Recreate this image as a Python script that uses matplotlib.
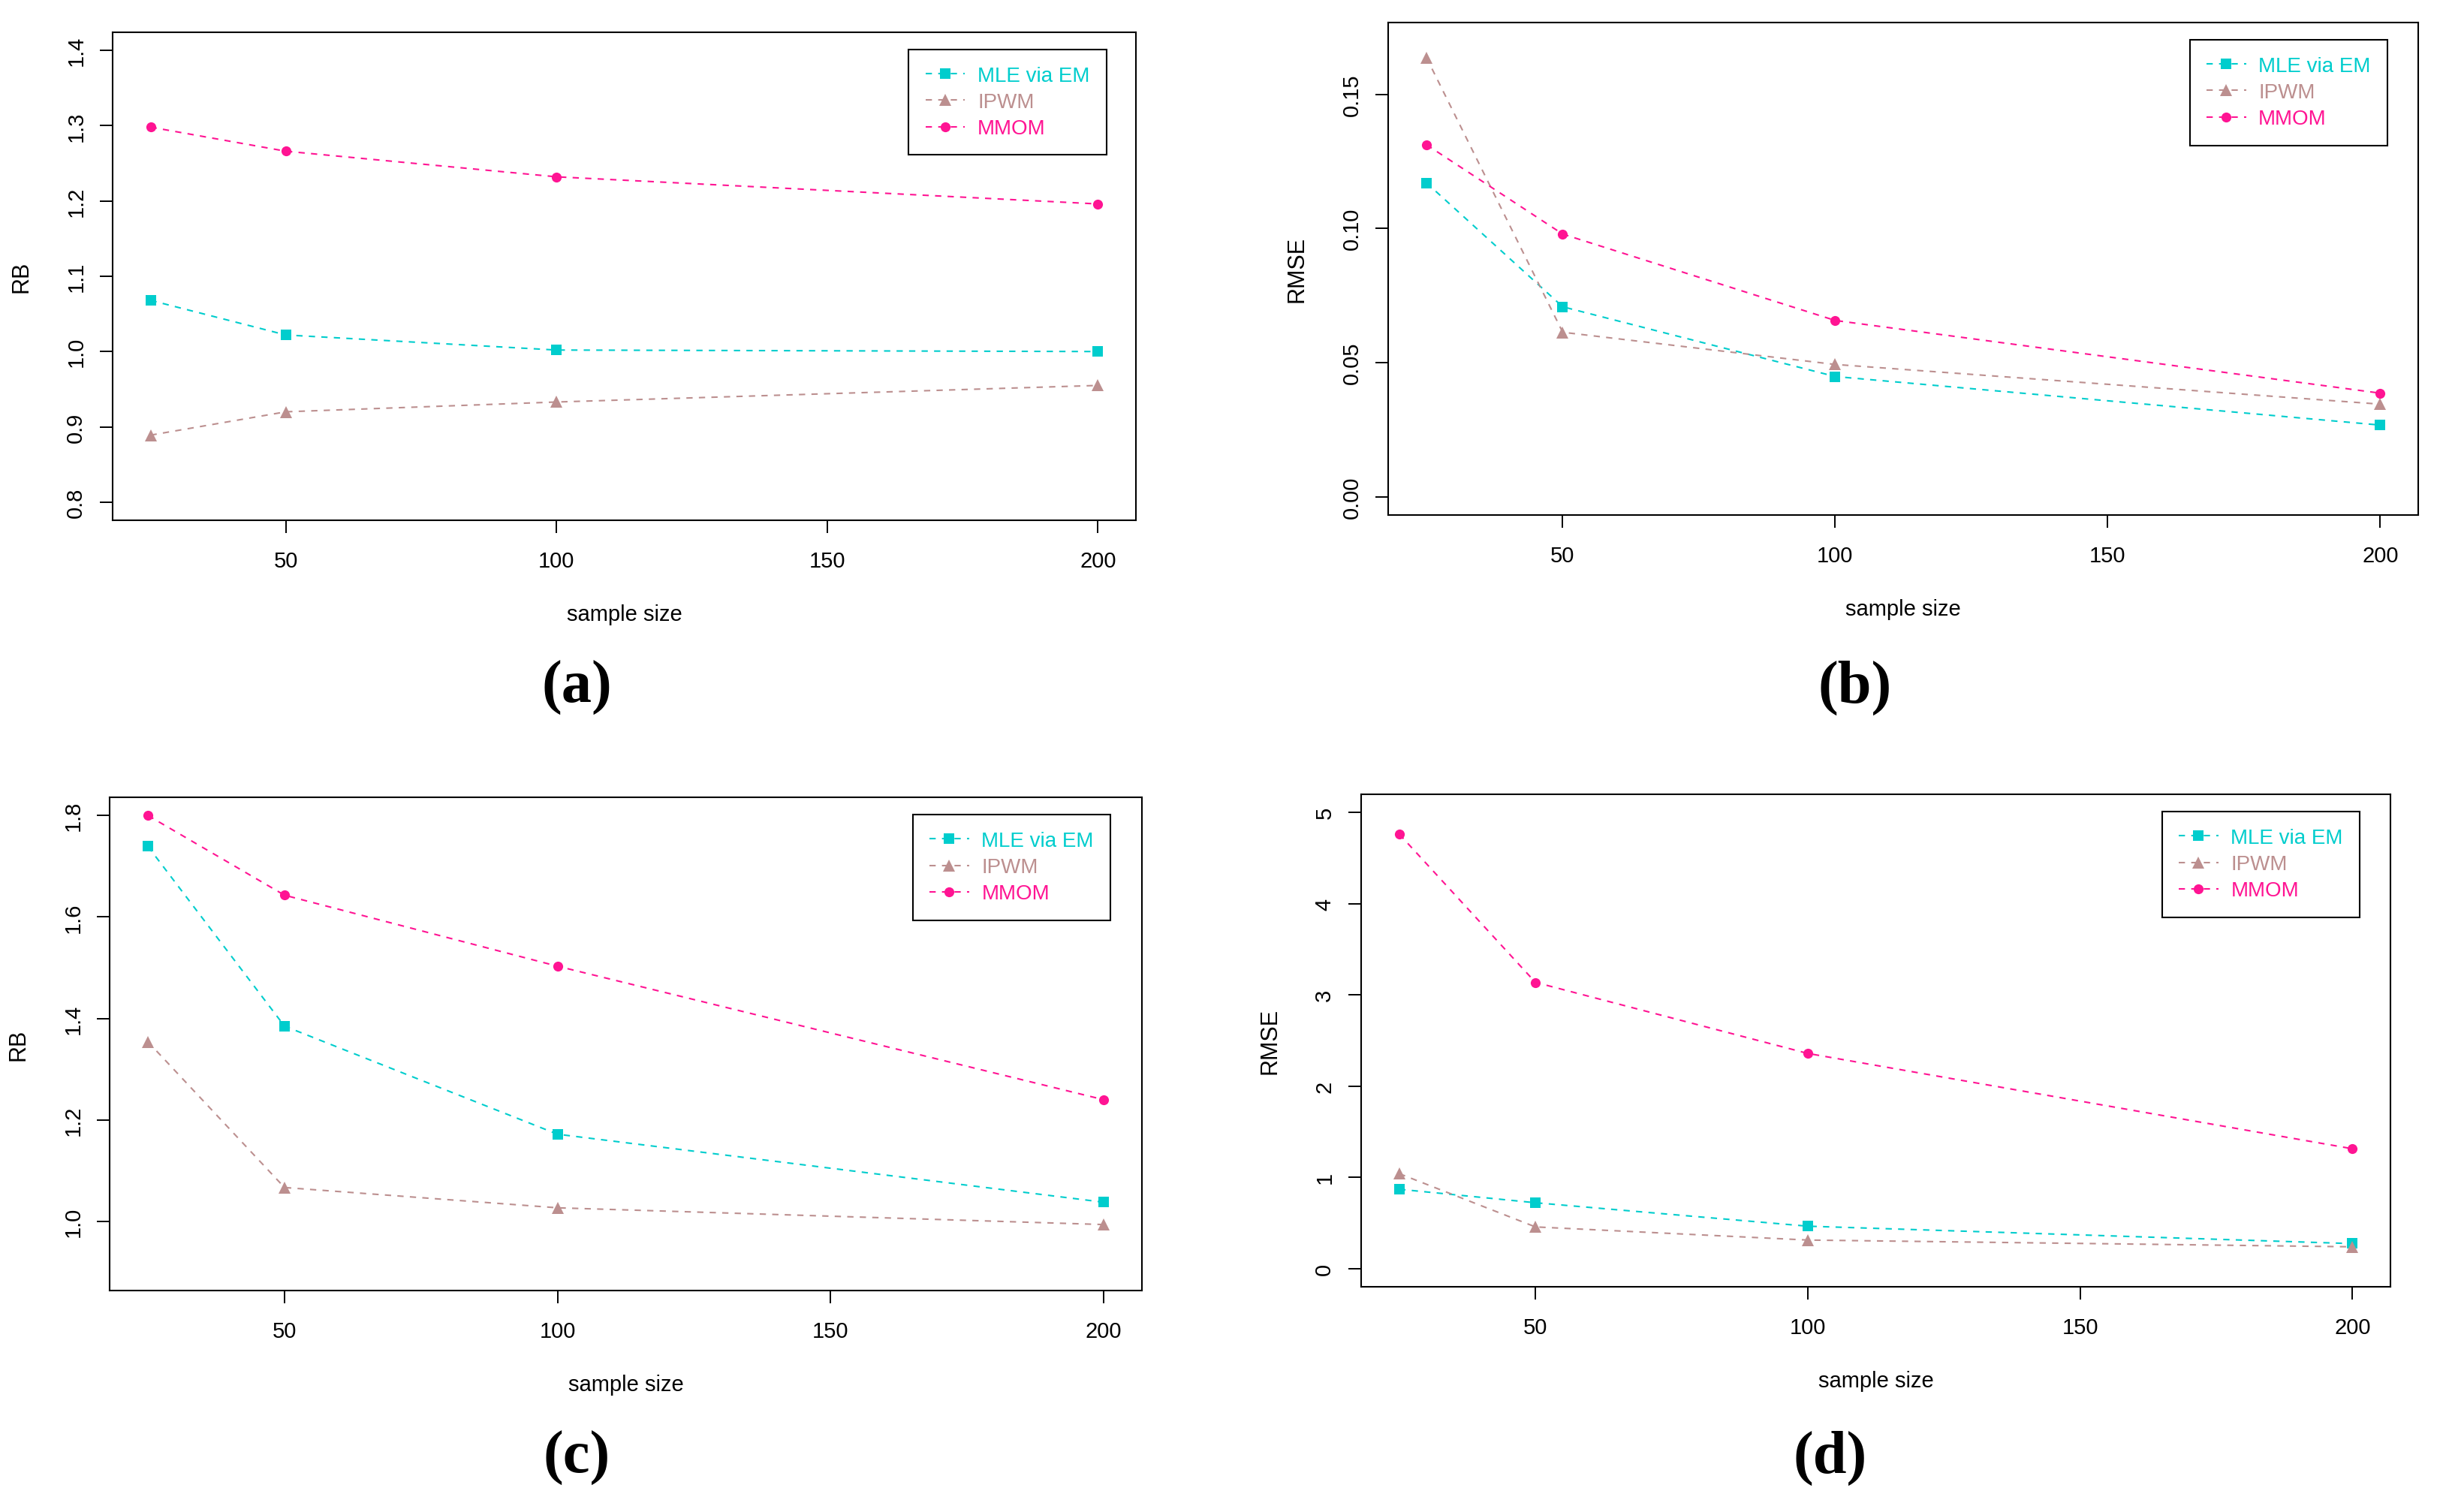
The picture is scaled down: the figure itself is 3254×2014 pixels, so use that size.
import matplotlib
matplotlib.use('Agg')
from matplotlib import pyplot as plt

plt.rcParams['font.family'] = ['Liberation Sans', 'DejaVu Sans']

sample_sizes = [25, 50, 100, 200]

methods = ['MLE via EM', 'IPWM', 'MMOM']
method_colors = ['#00CDCD', '#BC8F8F', '#FF1493']
method_markers = ['s', '^', 'o']
marker_sizes = [9.5, 12, 9.5]

# panel (a): RB
rb_a_mle = [1.068, 1.022, 1.002, 1.000]
rb_a_ipwm = [0.889, 0.920, 0.933, 0.955]
rb_a_mmom = [1.298, 1.266, 1.232, 1.196]

# panel (b): RMSE
rmse_b_mle = [0.117, 0.0708, 0.0448, 0.0267]
rmse_b_ipwm = [0.1637, 0.0613, 0.0493, 0.0345]
rmse_b_mmom = [0.1312, 0.0979, 0.0657, 0.0386]

# panel (c): RB
rb_c_mle = [1.739, 1.385, 1.172, 1.038]
rb_c_ipwm = [1.354, 1.067, 1.027, 0.994]
rb_c_mmom = [1.800, 1.643, 1.503, 1.240]

# panel (d): RMSE
rmse_d_mle = [0.869, 0.721, 0.464, 0.273]
rmse_d_ipwm = [1.040, 0.456, 0.312, 0.238]
rmse_d_mmom = [4.762, 3.137, 2.358, 1.313]

x_ticks = [50, 100, 150, 200]

FIG_W, FIG_H, DPI = 32.55, 20.15, 100


def r_range(lo, hi):
    # R pads the axis range by 4% on each side
    pad = 0.04 * (hi - lo)
    return lo - pad, hi + pad


def plot_panel(fig, rect, series, ylabel, ylim, y_ticks, y_tick_labels, caption, caption_xy):
    ax = fig.add_axes(rect)
    for values, name, color, marker, size in zip(series, methods, method_colors, method_markers, marker_sizes):
        ax.plot(sample_sizes, values, color=color, marker=marker, markersize=size,
                markeredgewidth=0, linestyle=(0, (4, 4)), linewidth=1.5, label=name)

    ax.set_xlim(*r_range(min(sample_sizes), max(sample_sizes)))
    ax.set_ylim(*r_range(*ylim))
    ax.set_xticks(x_ticks, [str(t) for t in x_ticks])
    ax.set_yticks(y_ticks, y_tick_labels, rotation=90, va='center')
    ax.tick_params(axis='both', direction='out', length=12, width=1.4, labelsize=21)
    ax.tick_params(axis='x', pad=17)
    ax.tick_params(axis='y', pad=13)
    for spine in ax.spines.values():
        spine.set_linewidth(1.5)

    w_px = rect[2] * FIG_W * DPI
    h_px = rect[3] * FIG_H * DPI
    ax.set_xlabel('sample size', fontsize=21, va='center')
    ax.xaxis.set_label_coords(0.5, -125 / h_px)
    ax.set_ylabel(ylabel, fontsize=22, va='center')
    ax.yaxis.set_label_coords(-122 / w_px, 0.5)

    leg = ax.legend(loc='upper left', bbox_to_anchor=(0.778, 0.965), fontsize=20,
                    labelcolor='linecolor', fancybox=False, framealpha=1, edgecolor='black',
                    handlelength=1.9, handletextpad=0.6, borderpad=0.8,
                    labelspacing=0.33, borderaxespad=0)
    leg.get_frame().set_linewidth(1.5)

    fig.text(caption_xy[0], caption_xy[1], caption, fontsize=58, fontweight='bold',
             family=['Liberation Serif', 'DejaVu Serif'], ha='center', va='center')
    return ax


fig = plt.figure(figsize=(FIG_W, FIG_H), dpi=DPI)

plot_panel(fig, [0.0461, 0.6556, 0.4187, 0.3226], [rb_a_mle, rb_a_ipwm, rb_a_mmom], 'RB',
           (0.8, 1.4), [0.8, 0.9, 1.0, 1.1, 1.2, 1.3, 1.4],
           ['0.8', '0.9', '1.0', '1.1', '1.2', '1.3', '1.4'], '(a)', (0.236, 0.545))
plot_panel(fig, [0.5681, 0.6591, 0.4215, 0.3256], [rmse_b_mle, rmse_b_ipwm, rmse_b_mmom], 'RMSE',
           (0.0, 0.17), [0.0, 0.05, 0.10, 0.15],
           ['0.00', '0.05', '0.10', '0.15'], '(b)', (0.759, 0.545))
plot_panel(fig, [0.0449, 0.1464, 0.4224, 0.3261], [rb_c_mle, rb_c_ipwm, rb_c_mmom], 'RB',
           (0.9, 1.8), [1.0, 1.2, 1.4, 1.6, 1.8],
           ['1.0', '1.2', '1.4', '1.6', '1.8'], '(c)', (0.236, 0.0362))
plot_panel(fig, [0.5570, 0.1489, 0.4212, 0.3256], [rmse_d_mle, rmse_d_ipwm, rmse_d_mmom], 'RMSE',
           (0.0, 5.0), [0, 1, 2, 3, 4, 5],
           ['0', '1', '2', '3', '4', '5'], '(d)', (0.749, 0.0362))

fig.savefig('out.png', dpi=DPI)
